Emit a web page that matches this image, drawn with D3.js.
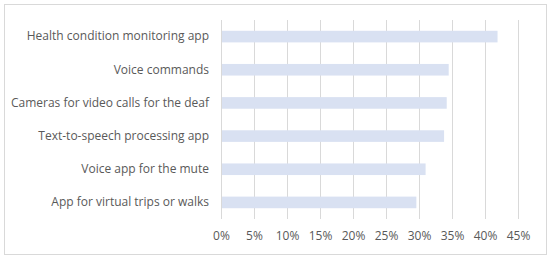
<!DOCTYPE html>
<html>
<head>
<meta charset="utf-8">
<script src="https://cdn.jsdelivr.net/npm/d3@7"></script>
<style>
  body { margin: 0; background: #fff; }
  svg { display: block; }
</style>
</head>
<body>
<script>
// Chart data
const categories = [
    "Health condition monitoring app",
    "Voice commands",
    "Cameras for video calls for the deaf",
    "Text-to-speech processing app",
    "Voice app for the mute",
    "App for virtual trips or walks"
];
const values = [0.419, 0.345, 0.342, 0.338, 0.310, 0.296];
const xTicks = [0, 0.05, 0.10, 0.15, 0.20, 0.25, 0.30, 0.35, 0.40, 0.45];

const W = 550, H = 258;
const margin = { top: 20, right: 32, bottom: 39, left: 221 };
const width = W - margin.left - margin.right;
const height = H - margin.top - margin.bottom;

const svg = d3.select("body")
    .append("svg")
    .attr("width", W)
    .attr("height", H);

// Outer chart border
svg.append("rect")
    .attr("x", 4.5).attr("y", 4.5)
    .attr("width", 542).attr("height", 250)
    .attr("fill", "#fff")
    .attr("stroke", "#d9d9d9");

const g = svg.append("g")
    .attr("transform", `translate(${margin.left},${margin.top})`);

const x = d3.scaleLinear()
    .domain([0, 0.45])
    .range([0, width]);

const y = d3.scaleBand()
    .domain(categories)
    .range([0, height])
    .paddingInner(0.65)
    .paddingOuter(0.325);

// Vertical gridlines
g.append("g")
    .selectAll("line")
    .data(xTicks)
    .join("line")
    .attr("x1", d => Math.round(x(d)) + 0.5)
    .attr("x2", d => Math.round(x(d)) + 0.5)
    .attr("y1", 0)
    .attr("y2", height)
    .attr("stroke", "#d9d9d9");

// Bars
g.append("g")
    .selectAll("rect")
    .data(values)
    .join("rect")
    .attr("x", x(0) + 1)
    .attr("y", (d, i) => y(categories[i]))
    .attr("width", d => x(d) - x(0) - 1)
    .attr("height", y.bandwidth())
    .attr("fill", "#d9e1f2");

// X axis labels
const xAxis = g.append("g")
    .attr("transform", `translate(0,${height})`)
    .call(d3.axisBottom(x).tickValues(xTicks).tickFormat(d3.format(".0%")).tickSize(0).tickPadding(12));
xAxis.select(".domain").remove();
xAxis.selectAll("text")
    .attr("fill", "#595959")
    .style("font-family", "'Open Sans', sans-serif")
    .style("font-size", "12px");

// Y axis labels
const yAxis = g.append("g")
    .call(d3.axisLeft(y).tickSize(0).tickPadding(12));
yAxis.select(".domain").remove();
yAxis.selectAll("text")
    .attr("fill", "#595959")
    .style("font-family", "'Open Sans', sans-serif")
    .style("font-size", "12px");
</script>
</body>
</html>
